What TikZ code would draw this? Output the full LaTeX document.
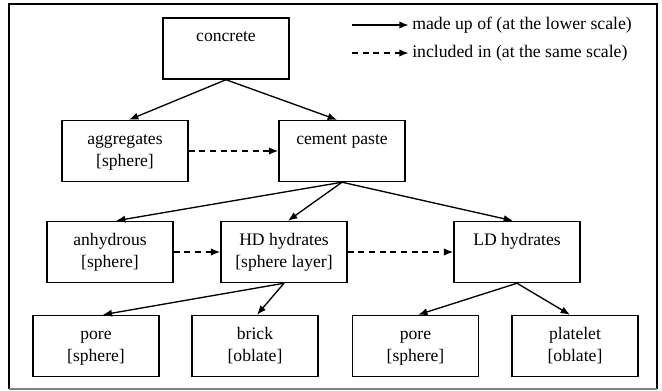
\documentclass[tikz,border=0pt]{standalone}
\usepackage{fontspec}
\setmainfont{Liberation Serif}
\usetikzlibrary{arrows.meta}
\begin{document}
\begin{tikzpicture}[x=0.75pt,y=-0.75pt,
  box/.style={draw, line width=1.1pt, minimum width=94.5pt, minimum height=45.75pt,
    inner sep=0pt, align=center, font=\fontsize{13.2}{16.5}\selectfont},
  arr/.style={line width=1pt, -{Latex[length=7pt,width=5.5pt]}},
  darr/.style={arr, dash pattern=on 4.5pt off 3.5pt},
  lgd/.style={anchor=west, inner sep=0pt, font=\fontsize{13.3}{16}\selectfont}]
\useasboundingbox (0,0) rectangle (662,391);
\draw[line width=1.3pt] (9,389) -- (9,4) -- (657,4) -- (657,389);
\draw[line width=1pt, gray] (9,389) -- (657,389);

% boxes
\node[box] (conc)  at (226,48.5) {\strut concrete\\\strut};
\node[box] (agg)   at (125,151) {\strut aggregates\\\strut [sphere]};
\node[box] (cem)   at (342,151) {\strut cement paste\\\strut};
\node[box] (anh)   at (110,252) {\strut anhydrous\\\strut [sphere]};
\node[box] (hd)    at (284,252) {\strut HD hydrates\\\strut [sphere layer]};
\node[box] (ld)    at (517,252) {\strut LD hydrates\\\strut};
\node[box] (pore1) at (96,346) {\strut pore\\\strut [sphere]};
\node[box] (brick) at (255,346) {\strut brick\\\strut [oblate]};
\node[box] (pore2) at (415.5,346) {\strut pore\\\strut [sphere]};
\node[box] (plate) at (575,346) {\strut platelet\\\strut [oblate]};

% made up of
\draw[arr] (conc.south) -- ([xshift=3pt]agg.north);
\draw[arr] (conc.south) -- ([xshift=-3.75pt]cem.north);
\draw[arr] (cem.south) -- ([xshift=4.5pt]anh.north);
\draw[arr] (cem.south) -- ([xshift=3pt]hd.north);
\draw[arr] (cem.south) -- ([xshift=-3pt]ld.north);
\draw[arr] (hd.south) -- ([xshift=5pt]pore1.north);
\draw[arr] (hd.south) -- ([xshift=1.5pt]brick.north);
\draw[arr] (ld.south) -- ([xshift=2pt]pore2.north);
\draw[arr] (ld.south) -- ([xshift=-3.75pt]plate.north);

% included in
\draw[darr] (agg.east) -- (cem.west);
\draw[darr] (anh.east) -- (hd.west);
\draw[darr] (hd.east) -- (ld.west);

% legend
\coordinate (la) at (352,25);
\coordinate (lb) at (352,53);
\node[lgd] (lta) at (412,25) {made up of (at the lower scale)};
\node[lgd] (ltb) at (412,53) {included in (at the same scale)};
\draw[arr] (la) -- ([xshift=-2.5pt]lta.west);
\draw[darr] (lb) -- ([xshift=-2.5pt]ltb.west);
\end{tikzpicture}
\end{document}
